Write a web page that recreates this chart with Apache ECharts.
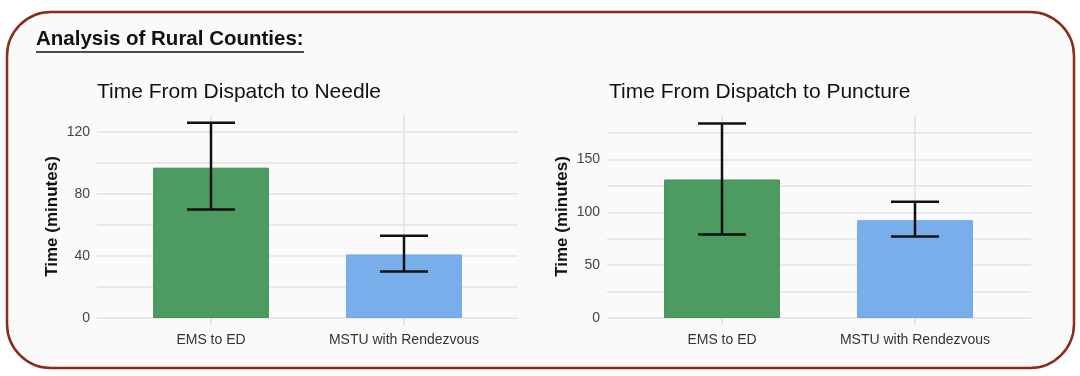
<!DOCTYPE html>
<html>
<head>
<meta charset="utf-8">
<script src="https://cdn.jsdelivr.net/npm/echarts@6/dist/echarts.min.js"></script>
<style>
  html, body { margin: 0; padding: 0; background: #ffffff; }
  #main { width: 1080px; height: 376px; }
</style>
</head>
<body>
<div id="main"></div>
<script>
var myChart = echarts.init(document.getElementById('main'));

// data
var categories = ['EMS to ED', 'MSTU with Rendezvous'];

var needleMean = [97, 41];
var needleLow = [70, 30];
var needleHigh = [126, 53];

var punctureMean = [131, 92.5];
var punctureLow = [79, 77];
var punctureHigh = [184, 110];

var barColors = ['#4e9b62', '#78aee9'];
var barBorders = ['#448f57', '#6ea5e2'];

var FONT = 'Liberation Sans, Arial, sans-serif';

function errRows(low, high) {
    var rows = [];
    for (var i = 0; i < low.length; i++) {
        rows.push([i, low[i], high[i]]);
    }
    return rows;
}

function barItems(values) {
    var items = [];
    for (var i = 0; i < values.length; i++) {
        items.push({
            value: values[i],
            itemStyle: { color: barColors[i], borderColor: barBorders[i], borderWidth: 1 }
        });
    }
    return items;
}

// error bar: vertical stem + two caps
function renderErr(params, api) {
    var x = api.value(0);
    var lo = api.coord([x, api.value(1)]);
    var hi = api.coord([x, api.value(2)]);
    var w = 24;
    var st = { stroke: '#111', lineWidth: 2.5 };
    return {
        type: 'group',
        children: [
            { type: 'line', shape: { x1: lo[0], y1: hi[1], x2: lo[0], y2: lo[1] }, style: st },
            { type: 'line', shape: { x1: lo[0] - w, y1: hi[1], x2: lo[0] + w, y2: hi[1] }, style: st },
            { type: 'line', shape: { x1: lo[0] - w, y1: lo[1], x2: lo[0] + w, y2: lo[1] }, style: st }
        ]
    };
}

function gridAxis(gi, max, step, labelStep) {
    return {
        gridIndex: gi,
        type: 'value',
        min: 0,
        max: max,
        interval: step,
        axisLine: { show: false },
        axisTick: { show: false },
        axisLabel: {
            color: '#444',
            fontSize: 14,
            fontFamily: FONT,
            margin: 7,
            formatter: function (v) {
                return (v % labelStep === 0) ? String(v) : '';
            }
        },
        splitLine: { show: true, showMaxLine: false, lineStyle: { color: '#e2e2e2', width: 1.5 } },
        name: 'Time (minutes)',
        nameLocation: 'middle',
        nameGap: 36,
        nameTextStyle: { color: '#111', fontSize: 17, fontWeight: 'bold', fontFamily: FONT }
    };
}

function barXAxis(gi) {
    return {
        gridIndex: gi,
        type: 'category',
        data: categories,
        axisLine: { show: false },
        axisTick: { show: true, interval: 0, alignWithLabel: true, length: 7, lineStyle: { color: '#dcdcdc', width: 1.5 } },
        axisLabel: { interval: 0, color: '#333', fontSize: 14, fontFamily: FONT, margin: 15 },
        splitLine: { show: true, interval: 0, alignWithLabel: true, lineStyle: { color: '#e0e0e0', width: 1.5 } }
    };
}

function hiddenY(gi, max) {
    return { gridIndex: gi, type: 'value', min: 0, max: max, show: false, splitLine: { show: false } };
}

function barSeries(xi, yi, values) {
    return {
        type: 'bar',
        xAxisIndex: xi,
        yAxisIndex: yi,
        barWidth: '60%',
        data: barItems(values),
        silent: true
    };
}

function errSeries(xi, yi, low, high) {
    return {
        type: 'custom',
        xAxisIndex: xi,
        yAxisIndex: yi,
        renderItem: renderErr,
        encode: { x: 0, y: [1, 2] },
        data: errRows(low, high),
        z: 5,
        silent: true
    };
}

var NEEDLE_MAX = 131;
var PUNCT_MAX = 192;

option = {
    backgroundColor: '#ffffff',
    animation: false,
    textStyle: { fontFamily: FONT },
    title: [
        {
            text: 'Analysis of Rural Counties:',
            left: 36, top: 29, padding: 0,
            textStyle: { fontSize: 20.5, fontWeight: 'bold', color: '#111', fontFamily: FONT }
        },
        {
            text: 'Time From Dispatch to Needle',
            left: 97, top: 82, padding: 0,
            textStyle: { fontSize: 21, fontWeight: 'normal', color: '#111', fontFamily: FONT }
        },
        {
            text: 'Time From Dispatch to Puncture',
            left: 609, top: 82, padding: 0,
            textStyle: { fontSize: 21, fontWeight: 'normal', color: '#111', fontFamily: FONT }
        }
    ],
    graphic: [
        {   // rounded frame
            type: 'rect', z: -10,
            shape: { x: 7, y: 12, width: 1067, height: 356, r: 44 },
            style: { fill: '#fafafa', stroke: '#8b2b1c', lineWidth: 2.5 }
        },
        {   // underline under the heading
            type: 'line', z: 10,
            shape: { x1: 36, y1: 52, x2: 304, y2: 52 },
            style: { stroke: '#111', lineWidth: 1.5 }
        }
    ],
    grid: [
        { left: 97, right: 562, top: 115, bottom: 58 },     // needle gridlines
        { left: 114.5, width: 386, top: 115, bottom: 58 },  // needle bars
        { left: 607, right: 49, top: 115, bottom: 58 },     // puncture gridlines
        { left: 625.5, width: 386, top: 115, bottom: 58 }   // puncture bars
    ],
    xAxis: [
        { gridIndex: 0, type: 'value', show: false, splitLine: { show: false } },
        barXAxis(1),
        { gridIndex: 2, type: 'value', show: false, splitLine: { show: false } },
        barXAxis(3)
    ],
    yAxis: [
        gridAxis(0, NEEDLE_MAX, 20, 40),
        hiddenY(1, NEEDLE_MAX),
        gridAxis(2, PUNCT_MAX, 25, 50),
        hiddenY(3, PUNCT_MAX)
    ],
    series: [
        barSeries(1, 1, needleMean),
        errSeries(1, 1, needleLow, needleHigh),
        barSeries(3, 3, punctureMean),
        errSeries(3, 3, punctureLow, punctureHigh)
    ]
};

myChart.setOption(option);
</script>
</body>
</html>
